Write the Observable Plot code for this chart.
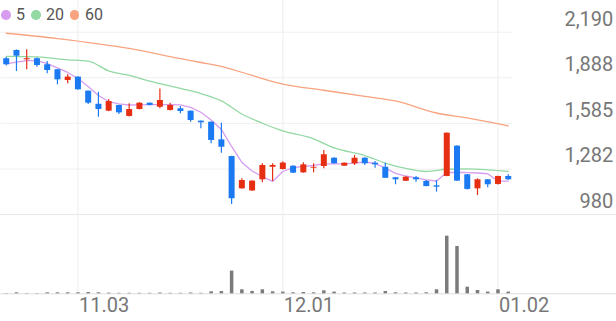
<!DOCTYPE html>
<html><head><meta charset="utf-8">
<script src="https://cdn.jsdelivr.net/npm/d3@7"></script>
<script src="https://cdn.jsdelivr.net/npm/@observablehq/plot@0.6"></script>
<style>
body{margin:0;background:#fff;font-family:Roboto,"Noto Sans",sans-serif;}
#wrap{position:relative;width:616px;height:321px;overflow:hidden}
#wrap svg{display:block}
#legend{position:absolute;left:1px;top:5px;display:flex;align-items:center;font-size:16px;color:#555;line-height:20px}
#legend .it{display:flex;align-items:center;margin-right:6px}
#legend .dot{width:9.5px;height:9.5px;border-radius:50%;margin-right:5.5px}
</style></head><body>
<div id="wrap"><div id="price"></div><div id="vol"></div><div id="legend"></div></div>
<script>
const dates = ["10.23","10.24","10.27","10.28","10.29","10.30","10.31",
"11.03","11.04","11.05","11.06","11.07","11.10","11.11","11.12","11.13","11.14",
"11.17","11.18","11.19","11.20","11.21","11.24","11.25","11.26","11.27","11.28",
"12.01","12.02","12.03","12.04","12.05","12.08","12.09","12.10","12.11","12.12",
"12.15","12.16","12.17","12.18","12.19","12.22","12.23","12.24","12.26",
"12.29","12.30","01.02","01.05"];
const opens  = [2014,2069,2007,2014,1974,1941,1870,1892,1799,1712,1666,1704,1631,1677,1719,1692,1671,1682,1666,1600,1593,1476,1365,1151,1137,1211,1294,1279,1301,1257,1288,1299,1354,1301,1317,1354,1321,1294,1224,1201,1224,1200,1171,1233,1434,1244,1151,1211,1180,1233];
const closes = [1974,2031,2014,1969,1936,1874,1892,1808,1719,1677,1730,1655,1677,1719,1704,1737,1704,1664,1604,1589,1472,1427,1085,1206,1202,1306,1306,1322,1255,1310,1294,1377,1317,1321,1354,1317,1310,1221,1211,1228,1211,1166,1162,1520,1202,1147,1211,1178,1233,1211];
const highs  = [2022,2072,2073,2019,1996,1942,1907,1895,1800,1792,1744,1706,1715,1722,1721,1814,1719,1697,1668,1601,1595,1586,1367,1217,1205,1317,1317,1330,1304,1324,1317,1405,1357,1323,1372,1357,1332,1321,1226,1231,1233,1206,1206,1522,1436,1246,1217,1213,1235,1244];
const lows   = [1966,1929,1941,1958,1914,1841,1848,1805,1710,1626,1663,1644,1628,1675,1702,1682,1668,1649,1593,1549,1450,1387,1047,1148,1134,1191,1200,1276,1252,1255,1257,1284,1315,1299,1306,1306,1288,1219,1178,1199,1195,1164,1129,1231,1199,1144,1107,1158,1177,1206];
const volumes = [30,100,30,30,100,100,100,100,130,100,70,50,50,50,50,80,50,50,80,50,200,220,2270,400,240,400,200,170,100,130,100,300,170,80,80,80,80,230,100,80,80,100,400,5760,4730,660,330,170,400,170];
const ma5 = [1980,1992,2002,2002,1982,1953,1923,1883,1830,1770,1730,1714,1707,1708,1710,1710,1710,1708,1691,1659,1608,1545,1432,1326,1269,1233,1200,1266,1292,1299,1306,1317,1317,1317,1322,1329,1319,1288,1253,1236,1223,1210,1203,1259,1261,1259,1256,1251,1202,1202];
const ma20Idx = [0,3,6,8,10,12,14,17,19,21,23,25,27,30,32,35,37,39,41,43,45,47,49];
const ma20 = [2029,2026,2007,1998,1933,1903,1866,1817,1783,1734,1647,1586,1535,1483,1422,1372,1322,1286,1266,1281,1283,1277,1266];
const ma60Idx = [0,5,12,17,19,21,24,27,31,35,38,42,45,49];
const ma60 = [2183,2148,2082,2014,1989,1963,1903,1846,1805,1764,1734,1654,1621,1568];
const priceTicks = [980,1282,1585,1888,2190];
const dateTicks = ["11.03","12.01","01.02"];
const maPeriods = ["5","20","60"];
const maColors = ["#d69df0","#93d9a3","#f8a47f"];
const UP = "#e62e12", DOWN = "#1b7af2";

const candles = dates.map((d,i)=>({date:d,open:opens[i],close:closes[i],high:highs[i],low:lows[i],vol:volumes[i],up:closes[i]>=opens[i]}));
const ma5Data = dates.map((d,i)=>({date:d,v:ma5[i]}));
const ma20Data = ma20Idx.map((k,i)=>({date:dates[k],v:ma20[i]}));
const ma60Data = ma60Idx.map((k,i)=>({date:dates[k],v:ma60[i]}));

const W = 616, ML = 0.6, MR = 103.15;
const xOpts = {type:"band",domain:dates,padding:0,round:false,axis:null};
const colorOf = d => d.up ? UP : DOWN;

const price = Plot.plot({
  width:W,height:216,marginLeft:ML,marginRight:MR,marginTop:31.7,marginBottom:1.9,
  style:{fontFamily:"Roboto, sans-serif",background:"transparent",overflow:"visible"},
  x:xOpts,
  y:{domain:[980,2190],axis:null},
  marks:[
    Plot.ruleY(priceTicks.filter(t=>t>980),{stroke:"#f0f0f0",strokeWidth:1}),
    Plot.ruleX(dateTicks,{stroke:"#ededed",insetTop:-32}),
    Plot.ruleY([980],{stroke:"#e6e6e6",insetLeft:-1,insetRight:-MR-1}),
    Plot.line(ma60Data,{x:"date",y:"v",stroke:maColors[2],strokeWidth:1.3,curve:"monotone-x"}),
    Plot.line(ma20Data,{x:"date",y:"v",stroke:maColors[1],strokeWidth:1.3,curve:"monotone-x"}),
    Plot.line(ma5Data,{x:"date",y:"v",stroke:maColors[0],strokeWidth:1.3}),
    Plot.ruleX(candles,{x:"date",y1:"low",y2:"high",stroke:colorOf,strokeWidth:1.2}),
    Plot.ruleX(candles,{x:"date",y1:"open",y2:"close",stroke:colorOf,strokeWidth:6}),
    Plot.text(priceTicks,{y:d=>d,text:d=>d3.format(",")(d),frameAnchor:"right",textAnchor:"end",lineAnchor:"middle",dx:100,dy:-13,fontSize:20,fill:"#777"})
  ]
});
document.getElementById("price").appendChild(price);

const vol = Plot.plot({
  width:W,height:105,marginLeft:ML,marginRight:MR,marginTop:14.3,marginBottom:27.7,
  style:{fontFamily:"Roboto, sans-serif",background:"transparent",overflow:"visible"},
  x:xOpts,
  y:{domain:[0,6300],axis:null},
  marks:[
    Plot.ruleX(dateTicks,{stroke:"#ededed",insetTop:-15}),
    Plot.ruleY([0],{stroke:"#dedede",insetLeft:-1,insetRight:-MR-1}),
    Plot.ruleX(candles,{x:"date",y1:0,y2:"vol",stroke:"#7b7b7b",strokeWidth:3.5}),
    Plot.text(dateTicks,{x:d=>d,text:d=>d,frameAnchor:"bottom",textAnchor:"start",lineAnchor:"middle",dx:1,dy:12,fontSize:20,fill:"#777"})
  ]
});
document.getElementById("vol").appendChild(vol);

const lg = document.getElementById("legend");
maPeriods.forEach((p,i)=>{
  const it = document.createElement("div"); it.className="it";
  const dot = document.createElement("span"); dot.className="dot"; dot.style.background=maColors[i];
  const t = document.createElement("span"); t.textContent=p;
  it.appendChild(dot); it.appendChild(t); lg.appendChild(it);
});
</script>
</body></html>
